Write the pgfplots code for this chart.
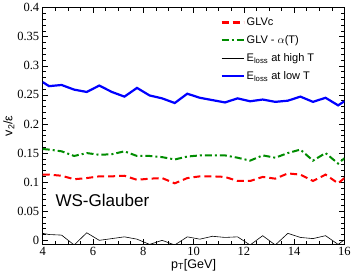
\documentclass[border=0pt]{standalone}
\usepackage{pgfplots}
\pgfplotsset{compat=1.18}
\usepackage{fontspec}
\setmainfont{Liberation Serif}
\setsansfont{Liberation Sans}
\definecolor{cgreen}{RGB}{0,140,0}
\begin{document}
\begin{tikzpicture}
\begin{axis}[
 scale only axis, width=301pt, height=236pt,
 xmin=4, xmax=16, ymin=-0.0065, ymax=0.4,
 xtick={4,6,8,10,12,14,16},
 ytick={0,0.05,0.1,0.15,0.2,0.25,0.3,0.35,0.4},
 minor x tick num=3, minor y tick num=4,
 tick align=inside, major tick length=5pt, minor tick length=3pt,
 tick style={black, line width=0.5pt},
 axis line style={line width=0.6pt},
 /pgf/number format/assume math mode=true,
 scaled y ticks=false,
 yticklabel style={/pgf/number format/fixed, /pgf/number format/precision=2, font=\fontsize{12.5}{12.5}\selectfont},
 xticklabel style={font=\fontsize{12.5}{12.5}\selectfont},
 xlabel={\sffamily p\textsubscript{T}[GeV]},
 ylabel={\sffamily v\textsubscript{2}/ε},
 label style={font=\fontsize{12.5}{13}\selectfont},
 xlabel style={yshift=4pt},
 ylabel style={yshift=-4pt},
 legend cell align=left,
 legend image code/.code={\draw[#1] (0pt,0pt) -- (22pt,0pt);},
 legend style={draw=none, fill=none, at={(rel axis cs:0.585,0.97)}, anchor=north west,
   font=\sffamily\fontsize{11}{11}\selectfont, row sep=4.5pt, inner sep=1pt},
]
\addplot[red, line width=2pt, dash pattern=on 7pt off 4pt] coordinates {
(4,0.113)(4.25,0.113)(4.75,0.111)(5.25,0.105)(5.75,0.107)(6.25,0.110)(6.75,0.110)(7.25,0.111)(7.75,0.104)(8.25,0.106)(8.75,0.107)(9.25,0.098)(9.75,0.107)(10.25,0.110)(10.75,0.110)(11.25,0.109)(11.75,0.102)(12.25,0.102)(12.75,0.109)(13.25,0.106)(13.75,0.115)(14.25,0.113)(14.75,0.102)(15.25,0.113)(15.75,0.098)(16,0.107)};
\addlegendentry{GLVc}
\addplot[cgreen, line width=2pt, dash pattern=on 7pt off 3pt on 2pt off 3pt] coordinates {
(4,0.157)(4.25,0.156)(4.75,0.153)(5.25,0.145)(5.75,0.150)(6.25,0.147)(6.75,0.148)(7.25,0.153)(7.75,0.145)(8.25,0.145)(8.75,0.143)(9.25,0.139)(9.75,0.144)(10.25,0.146)(10.75,0.146)(11.25,0.146)(11.75,0.142)(12.25,0.137)(12.75,0.146)(13.25,0.142)(13.75,0.150)(14.25,0.156)(14.75,0.137)(15.25,0.150)(15.75,0.132)(16,0.141)};
\addlegendentry{GLV - $\alpha$(T)}
\addplot[black, line width=0.6pt] coordinates {
(4,0.012)(4.25,0.010)(4.75,0.009)(5.25,-0.008)(5.75,0.013)(6.25,0.000)(6.75,0.003)(7.25,0.006)(7.75,0.002)(8.25,-0.007)(8.75,0.000)(9.25,-0.008)(9.75,0.006)(10.25,0.002)(10.75,0.007)(11.25,0.005)(11.75,0.006)(12.25,-0.008)(12.75,0.008)(13.25,-0.008)(13.75,0.012)(14.25,0.005)(14.75,0.003)(15.25,0.008)(15.75,-0.007)(16,0.001)};
\addlegendentry{E\textsubscript{loss} at high T}
\addplot[blue, line width=2.2pt] coordinates {
(4,0.272)(4.25,0.265)(4.75,0.267)(5.25,0.259)(5.75,0.255)(6.25,0.266)(6.75,0.255)(7.25,0.247)(7.75,0.262)(8.25,0.249)(8.75,0.244)(9.25,0.236)(9.75,0.252)(10.25,0.245)(10.75,0.241)(11.25,0.237)(11.75,0.244)(12.25,0.239)(12.75,0.242)(13.25,0.238)(13.75,0.240)(14.25,0.247)(14.75,0.238)(15.25,0.245)(15.75,0.232)(16,0.239)};
\addlegendentry{E\textsubscript{loss} at low T}
\node[anchor=west, font=\sffamily\fontsize{17}{17}\selectfont, inner sep=0pt] at (axis cs:4.5,0.069) {WS-Glauber};
\end{axis}
\end{tikzpicture}
\end{document}
